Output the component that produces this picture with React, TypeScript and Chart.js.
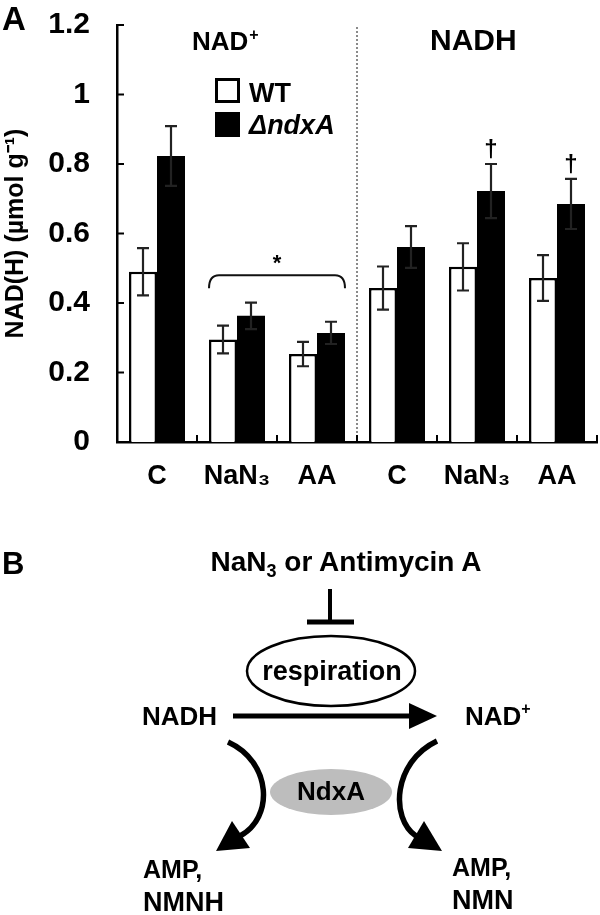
import React, { useEffect, useRef } from "react";
import { Chart, registerables } from "chart.js";

Chart.register(...registerables);

const categories = ["C", "NaN₃", "AA", "C", "NaN₃", "AA"];
const wtValues = [0.49, 0.295, 0.253, 0.443, 0.504, 0.472];
const wtErrors = [0.068, 0.04, 0.035, 0.062, 0.068, 0.066];
const mutValues = [0.823, 0.363, 0.314, 0.561, 0.722, 0.685];
const mutErrors = [0.086, 0.038, 0.032, 0.06, 0.078, 0.072];
const seriesNames = ["WT", "ΔndxA"];
const groupTitles = ["NAD", "NADH"];
const daggerIndices = [4, 5];
const bracketLevel = 0.48;
const yMin = 0;
const yMax = 1.2;
const yStep = 0.2;

const FONT = "'Liberation Sans', Arial, Helvetica, sans-serif";

const annotationPlugin = {
  id: "figureAnnotations",
  afterDatasetsDraw(chart: any) {
    const ctx = chart.ctx;
    const xs = chart.scales.x;
    const ys = chart.scales.y;
    const area = chart.chartArea;
    ctx.save();

    // error bars
    const sets: [number, number[], number[]][] = [
      [0, wtValues, wtErrors],
      [1, mutValues, mutErrors],
    ];
    sets.forEach(([di, vals, errs]) => {
      const meta = chart.getDatasetMeta(di);
      meta.data.forEach((bar: any, i: number) => {
        const cx = bar.x;
        const yt = ys.getPixelForValue(vals[i] + errs[i]);
        const yb = ys.getPixelForValue(vals[i] - errs[i]);
        ctx.strokeStyle = "#222";
        ctx.lineWidth = 2.2;
        ctx.beginPath();
        ctx.moveTo(cx, yt);
        ctx.lineTo(cx, yb);
        ctx.moveTo(cx - 6, yt);
        ctx.lineTo(cx + 6, yt);
        ctx.moveTo(cx - 6, yb);
        ctx.lineTo(cx + 6, yb);
        ctx.stroke();
      });
    });

    // inward y ticks
    ctx.strokeStyle = "#000";
    ctx.lineWidth = 2;
    for (let v = yMin; v <= yMax + 1e-9; v += yStep) {
      const py = ys.getPixelForValue(v);
      ctx.beginPath();
      ctx.moveTo(area.left, py);
      ctx.lineTo(area.left + 7, py);
      ctx.stroke();
    }
    // upward x ticks at category boundaries
    for (let i = 1; i <= categories.length; i++) {
      const px =
        i < categories.length
          ? (xs.getPixelForValue(i - 1) + xs.getPixelForValue(i)) / 2
          : area.right;
      ctx.beginPath();
      ctx.moveTo(px, area.bottom);
      ctx.lineTo(px, area.bottom - 7);
      ctx.stroke();
    }

    // dotted separator
    const sepX = (xs.getPixelForValue(2) + xs.getPixelForValue(3)) / 2;
    ctx.strokeStyle = "#8a8a8a";
    ctx.lineWidth = 2;
    ctx.setLineDash([2, 2]);
    ctx.beginPath();
    ctx.moveTo(sepX, area.top + 2);
    ctx.lineTo(sepX, area.bottom - 8);
    ctx.stroke();
    ctx.setLineDash([]);

    // bracket
    const wtMeta = chart.getDatasetMeta(0);
    const mutMeta = chart.getDatasetMeta(1);
    const b1 = wtMeta.data[1];
    const b2 = mutMeta.data[2];
    const bl = b1.x - b1.width / 2;
    const br = b2.x + b2.width / 2;
    const by = ys.getPixelForValue(bracketLevel);
    ctx.strokeStyle = "#111";
    ctx.lineWidth = 2;
    ctx.beginPath();
    ctx.moveTo(bl, by + 13);
    ctx.quadraticCurveTo(bl, by, bl + 10, by);
    ctx.lineTo(br - 10, by);
    ctx.quadraticCurveTo(br, by, br, by + 13);
    ctx.stroke();
    ctx.fillStyle = "#000";
    ctx.font = `bold 22px ${FONT}`;
    ctx.textAlign = "center";
    ctx.textBaseline = "alphabetic";
    ctx.fillText("*", (bl + br) / 2, by - 5);

    // daggers
    ctx.font = `bold 24px ${FONT}`;
    daggerIndices.forEach((i) => {
      const bar = mutMeta.data[i];
      const yt = ys.getPixelForValue(mutValues[i] + mutErrors[i]);
      ctx.fillText("†", bar.x, yt - 7);
    });

    // group titles
    ctx.textAlign = "left";
    ctx.font = `bold 26px ${FONT}`;
    ctx.fillText(groupTitles[0], 192, 50);
    const w0 = ctx.measureText(groupTitles[0]).width;
    ctx.font = `bold 16px ${FONT}`;
    ctx.fillText("+", 192 + w0 + 1, 40);
    ctx.font = `bold 30px ${FONT}`;
    ctx.fillText(groupTitles[1], 430, 50);

    // legend
    ctx.lineWidth = 3;
    ctx.strokeStyle = "#000";
    ctx.fillStyle = "#fff";
    ctx.fillRect(216.5, 79.5, 22, 22);
    ctx.strokeRect(216.5, 79.5, 22, 22);
    ctx.fillStyle = "#000";
    ctx.fillRect(215, 112, 25, 25);
    ctx.font = `bold 27px ${FONT}`;
    ctx.fillText(seriesNames[0], 249, 102);
    ctx.font = `italic bold 27px ${FONT}`;
    ctx.fillText(seriesNames[1], 249, 134);

    // panel label
    ctx.font = `bold 33px ${FONT}`;
    ctx.fillText("A", 2, 30);

    ctx.restore();
  },
};

function BarChart() {
  const ref = useRef<HTMLCanvasElement | null>(null);
  useEffect(() => {
    if (!ref.current) return;
    const chart = new Chart(ref.current, {
      type: "bar",
      data: {
        labels: categories,
        datasets: [
          {
            label: seriesNames[0],
            data: wtValues,
            backgroundColor: "#ffffff",
            borderColor: "#000000",
            borderWidth: 2.5,
            borderSkipped: "bottom",
            categoryPercentage: 0.7,
            barPercentage: 1.0,
          },
          {
            label: seriesNames[1],
            data: mutValues,
            backgroundColor: "#000000",
            borderColor: "#000000",
            borderWidth: 0,
            categoryPercentage: 0.7,
            barPercentage: 1.0,
          },
        ],
      },
      options: {
        responsive: false,
        animation: false,
        layout: { padding: { top: 25, right: 3, left: 0, bottom: 0 } },
        plugins: { legend: { display: false }, tooltip: { enabled: false } },
        scales: {
          x: {
            type: "category",
            grid: { display: false, drawTicks: false },
            border: { display: true, color: "#000", width: 2.5 },
            ticks: {
              color: "#000",
              font: { family: FONT, size: 27, weight: "bold" },
              padding: 18,
              maxRotation: 0,
              autoSkip: false,
            },
            afterFit: (s: any) => {
              s.height = 78;
              s.paddingLeft = 0;
              s.paddingRight = 0;
            },
          },
          y: {
            min: yMin,
            max: yMax,
            grid: { display: false, drawTicks: false },
            border: { display: true, color: "#000", width: 2.5 },
            ticks: {
              stepSize: yStep,
              color: "#000",
              font: { family: FONT, size: 30, weight: "bold" },
              padding: 27,
              callback: (v: any) => String(Number(Number(v).toFixed(1))),
            },
            title: {
              display: true,
              text: "NAD(H) (µmol g⁻¹)",
              color: "#000",
              font: { family: FONT, size: 25, weight: "bold" },
              padding: { top: 1, bottom: 0 },
            },
            afterFit: (s: any) => {
              s.width = 117;
              s.paddingTop = 0;
              s.paddingBottom = 0;
            },
          },
        },
      },
      plugins: [annotationPlugin],
    } as any);
    return () => chart.destroy();
  }, []);
  return (
    <canvas
      ref={ref}
      width={600}
      height={520}
      style={{ display: "block", width: 600, height: 520 }}
    />
  );
}

export default function App() {
  return (
    <div
      style={{
        position: "absolute",
        left: 0,
        top: 0,
        width: 600,
        height: 915,
        background: "#fff",
        overflow: "hidden",
      }}
    >
      <BarChart />
      <svg
        width={600}
        height={915}
        viewBox="0 0 600 915"
        style={{ position: "absolute", left: 0, top: 0, pointerEvents: "none" }}
        fontFamily={FONT}
        fontWeight="bold"
      >
        <text x={2} y={574} fontSize={31}>B</text>
        <text x={346} y={571} fontSize={28} textAnchor="middle">
          NaN<tspan fontSize={18} dy={6}>3</tspan>
          <tspan dy={-6}> or Antimycin A</tspan>
        </text>
        <line x1={330} y1={589} x2={330} y2={622} stroke="#000" strokeWidth={4} />
        <line x1={307} y1={622} x2={354} y2={622} stroke="#000" strokeWidth={5} />
        <ellipse cx={331} cy={671} rx={84} ry={35} fill="none" stroke="#000" strokeWidth={2.5} />
        <text x={332} y={680} fontSize={27} textAnchor="middle">respiration</text>
        <text x={142} y={725} fontSize={26}>NADH</text>
        <line x1={233} y1={716} x2={412} y2={716} stroke="#000" strokeWidth={5} />
        <polygon points="409,703 437,716 409,729" fill="#000" />
        <text x={465} y={725} fontSize={26}>
          NAD<tspan fontSize={16} dy={-11}>+</tspan>
        </text>
        <path d="M228,742 C272,762 274,818 240,836" fill="none" stroke="#000" strokeWidth={5.5} />
        <polygon points="216,851 232,821 250,848" fill="#000" />
        <path d="M437,741 C393,762 390,818 416,836" fill="none" stroke="#000" strokeWidth={5.5} />
        <polygon points="442,851 424,821 408,848" fill="#000" />
        <ellipse cx={331} cy={792} rx={61} ry={23} fill="#bdbdbd" />
        <text x={331} y={800} fontSize={26} textAnchor="middle">NdxA</text>
        <text x={143} y={878} fontSize={25}>AMP,</text>
        <text x={143} y={911} fontSize={27}>NMNH</text>
        <text x={452} y={876} fontSize={25}>AMP,</text>
        <text x={452} y={909} fontSize={27}>NMN</text>
      </svg>
    </div>
  );
}
